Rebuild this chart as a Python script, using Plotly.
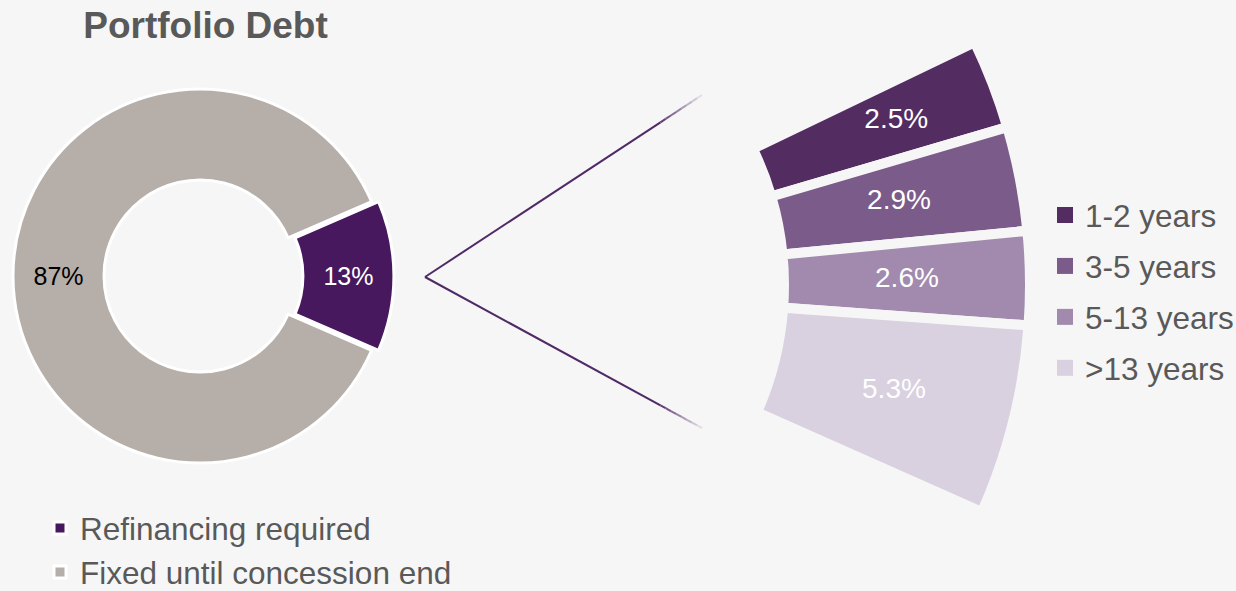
import math
import plotly.graph_objects as go

# ---- data -------------------------------------------------------------
debt_labels = ["Refinancing required", "Fixed until concession end"]
debt_values = [13, 87]
debt_colors = ["#47185e", "#b5aea9"]
debt_text_colors = ["white", "black"]

term_labels = ["1-2 years", "3-5 years", "5-13 years", ">13 years"]
term_values = [2.5, 2.9, 2.6, 5.3]
term_colors = ["#532c62", "#7b5b8a", "#a18aae", "#d9d0e0"]

# ---- page / style -----------------------------------------------------
W, H = 1236, 591
BG = "#f6f6f6"
FONT = "Arial, Liberation Sans, sans-serif"
TEXT_GREY = "#595959"
LINK_COLOR = "#4f2a66"


def px_x(x):
    return x / W


def px_y(y):
    return 1 - y / H


fig = go.Figure()

# ---- main donut ---------------------------------------------------------
pie_cx, pie_cy, pie_r, pie_hole, pull = 200, 276, 187, 96, 0.037
half = pie_r * (1 + pull)
fig.add_trace(go.Pie(
    labels=debt_labels,
    values=debt_values,
    sort=False,
    direction="clockwise",
    rotation=90 - debt_values[0] / sum(debt_values) * 360 / 2,
    hole=pie_hole / pie_r,
    pull=[pull, 0],
    marker=dict(colors=debt_colors, line=dict(color="white", width=3)),
    texttemplate="%{value}%",
    textposition="inside",
    insidetextorientation="horizontal",
    textfont=dict(size=25, color=debt_text_colors, family=FONT),
    domain=dict(x=[px_x(pie_cx - half), px_x(pie_cx + half)],
                y=[px_y(pie_cy + half), px_y(pie_cy - half)]),
    legend="legend",
    hoverinfo="label+percent",
))

# ---- breakdown fan (annular sector in a polar subplot) -----------------
DEG_PER_PCT = 3.73
FAN_TOP = 25.7
fan_ox, fan_oy = 470, 285          # fan origin (px)
fan_R, fan_r = 560, 314            # outer / inner radius of the bars (px)
pad_r, pad_deg = 12, 2.0           # room so the subplot clip never touches the bars
R_pol = fan_R + pad_r

theta_centres, widths = [], []
cum = 0.0
for v in term_values:
    theta_centres.append(FAN_TOP - (cum + v / 2) * DEG_PER_PCT)
    widths.append(v * DEG_PER_PCT)
    cum += v
sector = [FAN_TOP - cum * DEG_PER_PCT - pad_deg, FAN_TOP + pad_deg]

fan_top_px = fan_oy - R_pol * math.sin(math.radians(sector[1]))
fan_bot_px = fan_oy - R_pol * math.sin(math.radians(sector[0]))

fig.add_trace(go.Barpolar(
    r=[fan_R - fan_r] * len(term_values),
    base=fan_r,
    theta=theta_centres,
    width=widths,
    marker=dict(color=term_colors, line=dict(color=BG, width=10)),
    hovertext=[f"{l}: {v}%" for l, v in zip(term_labels, term_values)],
    hoverinfo="text",
    showlegend=False,
))

label_frac = [0.58, 0.5, 0.5, 0.5]
fig.add_trace(go.Scatterpolar(
    r=[fan_r + f * (fan_R - fan_r) for f in label_frac],
    theta=theta_centres,
    mode="text",
    text=[f"{v}%" for v in term_values],
    textfont=dict(size=28, color="white", family=FONT),
    hoverinfo="skip",
    showlegend=False,
))

# legend entries for the fan
for lab, col in zip(term_labels, term_colors):
    fig.add_trace(go.Scatterpolar(
        r=[None], theta=[None], mode="markers", name=lab,
        marker=dict(symbol="square", size=16, color=col),
        legend="legend2", legendgroup=lab, showlegend=True,
    ))

# ---- connector lines from the donut slice to the fan -------------------
apex = (425, 277)
ends = [(702, 95), (702, 428)]
shapes = []
solid_to, n_fade = 0.85, 8
for ex, ey in ends:
    def pt(t):
        return apex[0] + (ex - apex[0]) * t, apex[1] + (ey - apex[1]) * t
    x1, y1 = pt(solid_to)
    shapes.append(dict(type="line", xref="paper", yref="paper",
                       x0=px_x(apex[0]), y0=px_y(apex[1]), x1=px_x(x1), y1=px_y(y1),
                       line=dict(color=LINK_COLOR, width=2)))
    for i in range(n_fade):
        t0 = solid_to + (1 - solid_to) * i / n_fade
        t1 = solid_to + (1 - solid_to) * (i + 1) / n_fade
        a, b = pt(t0), pt(t1)
        shapes.append(dict(type="line", xref="paper", yref="paper",
                           x0=px_x(a[0]), y0=px_y(a[1]), x1=px_x(b[0]), y1=px_y(b[1]),
                           opacity=1 - (i + 1) / (n_fade + 1),
                           line=dict(color=LINK_COLOR, width=2)))

legend_font = dict(size=31.5, color=TEXT_GREY, family=FONT)

fig.update_layout(
    width=W, height=H,
    margin=dict(l=0, r=0, t=0, b=0, autoexpand=False),
    paper_bgcolor=BG, plot_bgcolor=BG,
    font=dict(family=FONT, color=TEXT_GREY),
    title=dict(text="<b>Portfolio Debt</b>", x=px_x(205.5), xanchor="center",
               y=px_y(25), yanchor="middle", yref="container",
               font=dict(size=37, color=TEXT_GREY, family=FONT)),
    polar=dict(
        domain=dict(x=[px_x(fan_ox), px_x(fan_ox + R_pol)],
                    y=[px_y(fan_bot_px), px_y(fan_top_px)]),
        sector=sector,
        hole=0,
        bgcolor="rgba(0,0,0,0)",
        angularaxis=dict(visible=False, rotation=0, direction="counterclockwise",
                         showgrid=False, showline=False),
        radialaxis=dict(visible=False, range=[0, R_pol], showgrid=False, showline=False),
    ),
    legend=dict(x=px_x(40), y=px_y(501), xanchor="left", yanchor="top",
                font=legend_font, bgcolor="rgba(0,0,0,0)"),
    legend2=dict(x=px_x(1045), y=px_y(188), xanchor="left", yanchor="top",
                 font=legend_font, bgcolor="rgba(0,0,0,0)", tracegroupgap=7),
    shapes=shapes,
)

fig.write_html("out.html")
